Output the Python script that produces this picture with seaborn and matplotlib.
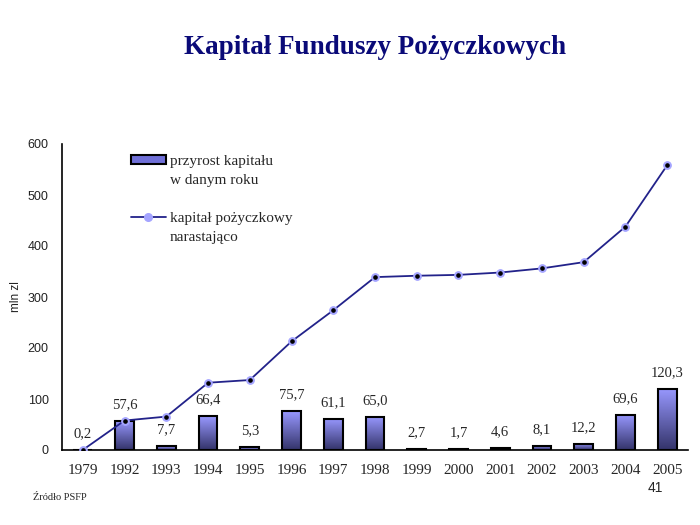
import numpy as np
import pandas as pd
import matplotlib
matplotlib.use("Agg")
import matplotlib.pyplot as plt
import seaborn as sns
from matplotlib.colors import LinearSegmentedColormap
from matplotlib.patches import Patch
from matplotlib.lines import Line2D

# dane
lata = ["1979", "1992", "1993", "1994", "1995", "1996", "1997", "1998",
        "1999", "2000", "2001", "2002", "2003", "2004", "2005"]
przyrost = [0.2, 57.6, 7.7, 66.4, 5.3, 75.7, 61.1, 65.0,
            2.7, 1.7, 4.6, 8.1, 12.2, 69.6, 120.3]
narastajaco = [0.2, 57.8, 65.5, 131.9, 137.2, 212.9, 274.0, 339.0,
               341.7, 343.4, 348.0, 356.1, 368.3, 437.9, 558.2]
etykiety = ["0,2", "57,6", "7,7", "66,4", "5,3", "75,7", "61,1", "65,0",
            "2,7", "1,7", "4,6", "8,1", "12,2", "69,6", "120,3"]

df = pd.DataFrame({"rok": lata, "przyrost": przyrost, "narastajaco": narastajaco})

sns.set_style("white")
serif = ["Liberation Serif", "DejaVu Serif"]
sans = ["Liberation Sans", "DejaVu Sans"]

fig = plt.figure(figsize=(7, 5.25), dpi=100)
ax = fig.add_axes([62 / 700, 1 - 450 / 525, 626 / 700, 306 / 525])

# slupki
sns.barplot(data=df, x="rok", y="przyrost", order=lata, width=0.45,
            color="#8080ff", edgecolor="black", linewidth=1.5, ax=ax, zorder=2)

# gradient na slupkach
cmap = LinearSegmentedColormap.from_list("g", ["#34346a", "#9898ff"])
grad = np.linspace(1, 0, 100).reshape(-1, 1)
for p in ax.patches:
    x0, y0 = p.get_x(), p.get_y()
    w, h = p.get_width(), p.get_height()
    im = ax.imshow(grad, extent=[x0, x0 + w, y0, y0 + h], aspect="auto",
                   cmap=cmap, zorder=2.1, origin="upper")
    im.set_clip_path(p)
    p.set_facecolor("none")
    p.set_zorder(2.2)

# linia narastajaco
pos = np.arange(len(lata))
sns.lineplot(x=pos, y=narastajaco, color="#22228a", linewidth=1.3, ax=ax,
             marker="o", markersize=5.5, markerfacecolor="#a4a4ff",
             markeredgecolor="#a4a4ff", zorder=3)
ax.plot(pos, narastajaco, linestyle="none", marker="o", markersize=2.3,
        color="black", zorder=4)

# etykiety wartosci
for i, (v, t) in enumerate(zip(przyrost, etykiety)):
    ax.annotate(t, (i, v), xytext=(0, 7), textcoords="offset points",
                ha="center", va="bottom", fontsize=10.5, family=serif)

ax.set_xlim(-0.5, len(lata) - 0.5)
ax.set_ylim(0, 600)
ax.set_yticks(range(0, 601, 100))
ax.set_xlabel("")
ax.set_ylabel("mln zl", fontsize=8.5, family=sans, color="#222222", labelpad=4)

for s in ["top", "right"]:
    ax.spines[s].set_visible(False)
for s in ["left", "bottom"]:
    ax.spines[s].set_color("black")
    ax.spines[s].set_linewidth(1.2)

ax.set_xticks(np.arange(-0.5, len(lata)), minor=True)
ax.tick_params(axis="x", which="major", length=0, pad=10, labelsize=11)
ax.tick_params(axis="x", which="minor", direction="inout", length=8, width=1.1, color="black")
ax.tick_params(axis="y", direction="inout", length=11, width=1.1, color="black",
               labelsize=9, pad=4)
for lab in ax.get_xticklabels():
    lab.set_family(serif)
for lab in ax.get_yticklabels():
    lab.set_family(sans)
    lab.set_color("#222222")

# legenda
pusty = Line2D([], [], linestyle="none")
uchwyty = [Patch(facecolor="#7070d8", edgecolor="black", linewidth=1.5),
           pusty, pusty,
           Line2D([], [], color="#22228a", linewidth=1.3, marker="o", markersize=5.5,
                  markerfacecolor="#a4a4ff", markeredgecolor="#a4a4ff"),
           pusty]
opisy = ["przyrost kapitału", "w danym roku", "", "kapitał pożyczkowy", "narastająco"]
leg = ax.legend(uchwyty, opisy, loc="upper left", bbox_to_anchor=(0.1, 0.985),
                frameon=False, handlelength=2.3, handleheight=0.55,
                labelspacing=0.4, handletextpad=0.25, borderaxespad=0,
                prop={"family": serif, "size": 11})

fig.text(375 / 700, 1 - 48 / 525, "Kapitał Funduszy Pożyczkowych", ha="center",
         va="center", fontsize=19.5, fontweight="bold", family=serif, color="#0a0a78")
fig.text(33 / 700, 1 - 497 / 525, "Źródło PSFP", ha="left", va="center",
         fontsize=7.5, family=serif)
fig.text(655 / 700, 1 - 488 / 525, "41", ha="center", va="center",
         fontsize=10, family=sans)

fig.savefig("out.png", dpi=100)
